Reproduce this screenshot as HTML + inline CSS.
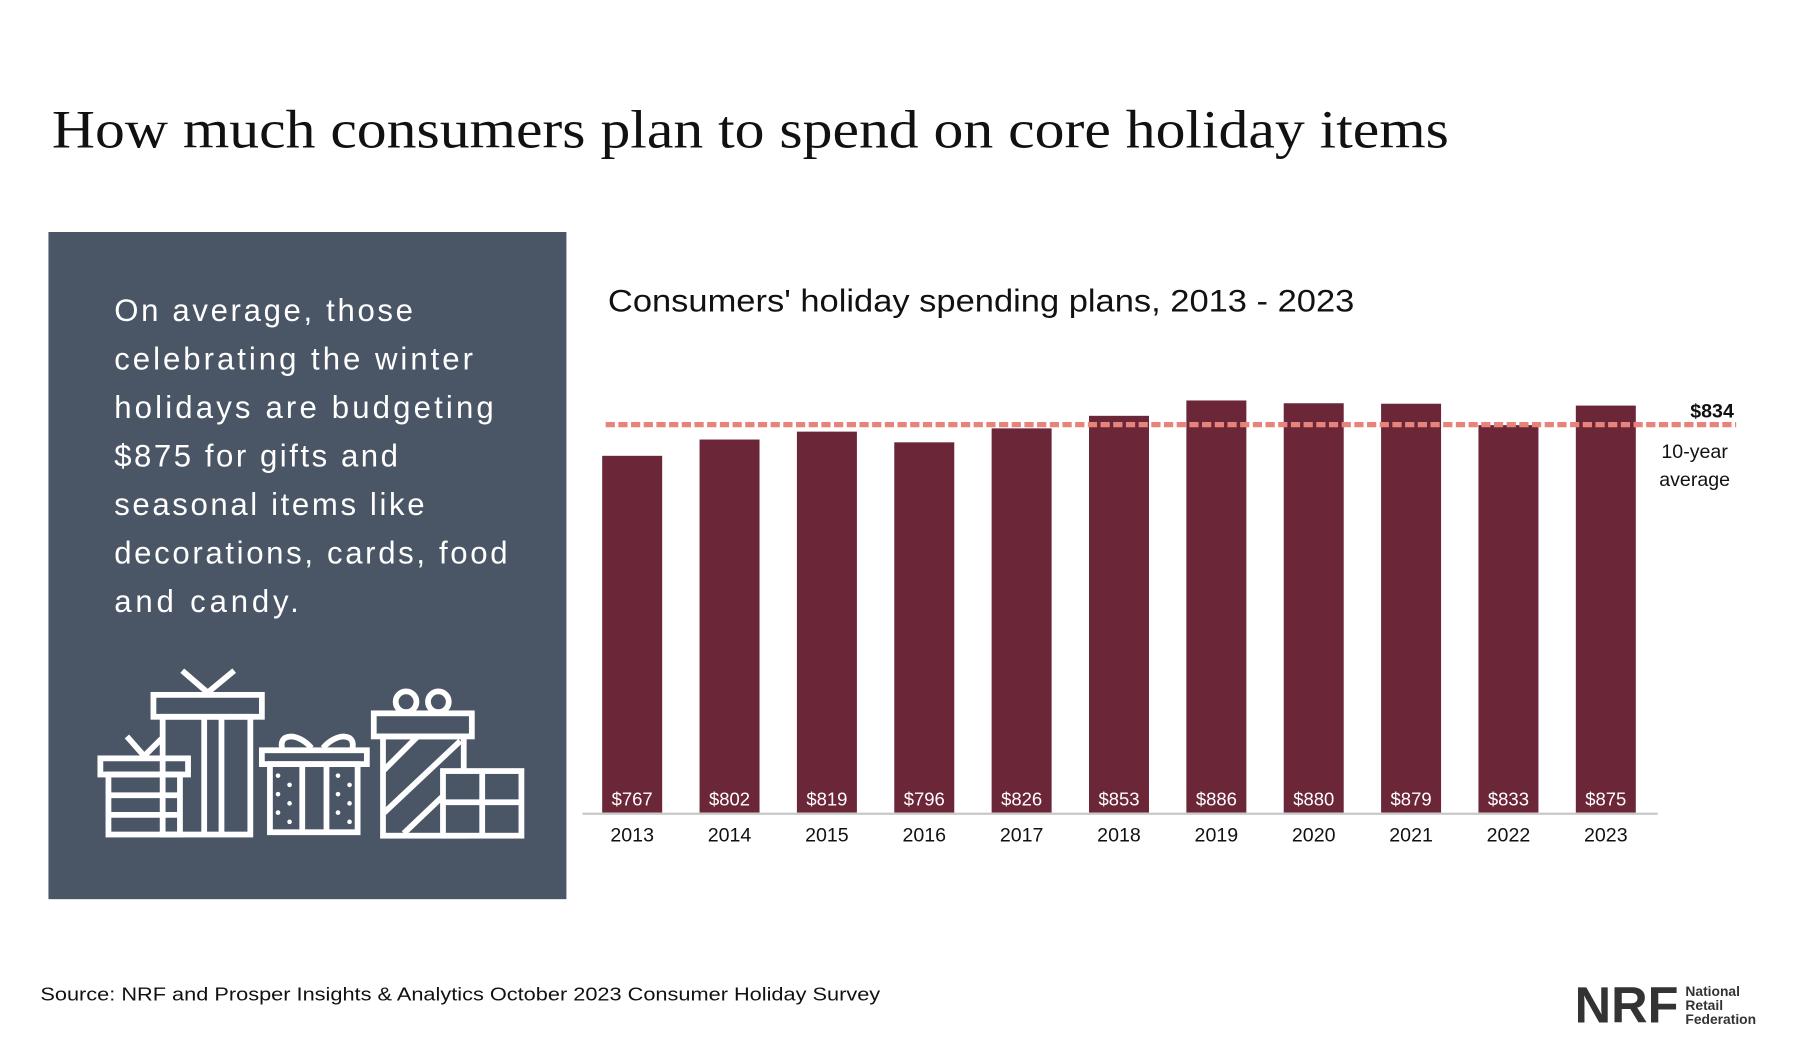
<!DOCTYPE html>
<html><head><meta charset="utf-8"><style>
html,body{margin:0;padding:0;background:#fff;}
svg{display:block;}
</style></head><body>
<svg width="1810" height="1055" viewBox="0 0 1569 914" preserveAspectRatio="none" xmlns="http://www.w3.org/2000/svg">
<rect width="1569" height="914" fill="#fff"/>
<text x="45" y="128" font-family="Liberation Serif, serif" font-size="47" fill="#111" textLength="1211" lengthAdjust="spacingAndGlyphs">How much consumers plan to spend on core holiday items</text>
<rect x="42" y="201" width="449" height="578" fill="#4a5565"/>
<g font-family="Liberation Sans, sans-serif" font-size="27" fill="#fff" lengthAdjust="spacingAndGlyphs">
<text x="99" y="278" textLength="259">On average, those</text>
<text x="99" y="320" textLength="311">celebrating the winter</text>
<text x="99" y="362" textLength="329">holidays are budgeting</text>
<text x="99" y="404" textLength="246">$875 for gifts and</text>
<text x="99" y="446" textLength="269">seasonal items like</text>
<text x="99" y="488" textLength="341">decorations, cards, food</text>
<text x="99" y="530" textLength="160">and candy.</text>
</g>
<g fill="none" stroke="#fff" stroke-width="5">
<path d="M110 638 L125 655 L140 640"/>
<rect x="87" y="657" width="76" height="14"/>
<rect x="94" y="671" width="62" height="52"/>
<path d="M94 689 H156 M94 706 H156"/>
<path d="M158 581 L180 600 L203 581"/>
<rect x="133" y="602" width="94" height="19"/>
<rect x="141" y="621" width="76" height="102"/>
<path d="M177 621 V723 M192 621 V723"/>
<path d="M245 650 C240 635 258 634 270 648 M305 650 C310 635 292 634 280 648"/>
<rect x="227" y="650" width="91" height="12"/>
<rect x="234" y="662" width="76" height="59"/>
<path d="M262 662 V721 M283 662 V721"/>
<circle cx="352" cy="608" r="9"/><circle cx="380" cy="608" r="9"/>
<rect x="324" y="618" width="85" height="20"/>
<rect x="332" y="638" width="70" height="86"/>
<path d="M332 668 L362 638 M332 705 L399 642 M350 722 L390 684"/>
<rect x="384" y="668" width="68" height="56" fill="#4a5565"/>
<path d="M418 668 V724 M384 695 H452"/>
</g>
<g fill="#fff">
<circle cx="241" cy="672" r="2"/><circle cx="251" cy="680" r="2"/><circle cx="241" cy="688" r="2"/><circle cx="251" cy="696" r="2"/><circle cx="241" cy="704" r="2"/><circle cx="251" cy="712" r="2"/>
<circle cx="293" cy="672" r="2"/><circle cx="303" cy="680" r="2"/><circle cx="293" cy="688" r="2"/><circle cx="303" cy="696" r="2"/><circle cx="293" cy="704" r="2"/><circle cx="303" cy="712" r="2"/>
</g>
<text x="527" y="270" font-family="Liberation Sans, sans-serif" font-size="27" fill="#111" textLength="647" lengthAdjust="spacingAndGlyphs">Consumers' holiday spending plans, 2013 - 2023</text>
<g id="chart"></g>
<text x="35" y="867" font-family="Liberation Sans, sans-serif" font-size="16" fill="#111" textLength="728" lengthAdjust="spacingAndGlyphs">Source: NRF and Prosper Insights &amp; Analytics October 2023 Consumer Holiday Survey</text>
<g fill="#333">
<text x="1365" y="886" font-family="Liberation Sans, sans-serif" font-weight="bold" font-size="44" textLength="90" lengthAdjust="spacingAndGlyphs">NRF</text>
<text x="1461" y="863" font-family="Liberation Sans, sans-serif" font-weight="bold" font-size="12">National</text>
<text x="1461" y="875" font-family="Liberation Sans, sans-serif" font-weight="bold" font-size="12">Retail</text>
<text x="1461" y="887" font-family="Liberation Sans, sans-serif" font-weight="bold" font-size="12">Federation</text>
</g>
</svg>
<script>
const years = ['2013','2014','2015','2016','2017','2018','2019','2020','2021','2022','2023'];
const spending = [767,802,819,796,826,853,886,880,879,833,875];
const average = [834];
const ns='http://www.w3.org/2000/svg';
const g=document.getElementById('chart');
const baseY=704, pxPerUnit=0.403, x0=548, step=84.4, bw=52;
function y(v){return baseY-v*pxPerUnit;}
function x(i){return x0+i*step;}
function mk(t,a){const e=document.createElementNS(ns,t);for(const k in a)e.setAttribute(k,a[k]);g.appendChild(e);return e;}
spending.forEach((v,i)=>{
  const r=mk('rect',{x:x(i)-bw/2,y:y(v),width:bw,height:baseY-y(v),fill:'#6b2638'});
  
  
  const t=mk('text',{x:x(i),y:698,'text-anchor':'middle','font-family':'Liberation Sans, sans-serif','font-size':'16',fill:'#fff'});
  t.textContent='$'+v;
  
  
  const yl=mk('text',{x:x(i),y:729,'text-anchor':'middle','font-family':'Liberation Sans, sans-serif','font-size':'17',fill:'#111'});
  yl.textContent=years[i];
  
  
});
const ax=mk('line',{x1:505,x2:1437,y1:705,y2:705,stroke:'#c8c8c8','stroke-width':2});


const av=mk('line',{x1:525,x2:1505,y1:y(average[0]),y2:y(average[0]),stroke:'#e8837c','stroke-width':4.5,'stroke-dasharray':'8 3'});


const al=mk('text',{x:1503,y:y(average[0])-6,'text-anchor':'end','font-family':'Liberation Sans, sans-serif','font-size':'17','font-weight':'bold',fill:'#111'});
al.textContent='$'+average[0];


const a1=mk('text',{x:1469,y:y(average[0])+29,'text-anchor':'middle','font-family':'Liberation Sans, sans-serif','font-size':'17',fill:'#111'});
a1.textContent='10-year';


const a2=mk('text',{x:1469,y:y(average[0])+53,'text-anchor':'middle','font-family':'Liberation Sans, sans-serif','font-size':'17',fill:'#111'});
a2.textContent='average';


</script>
</body></html>
